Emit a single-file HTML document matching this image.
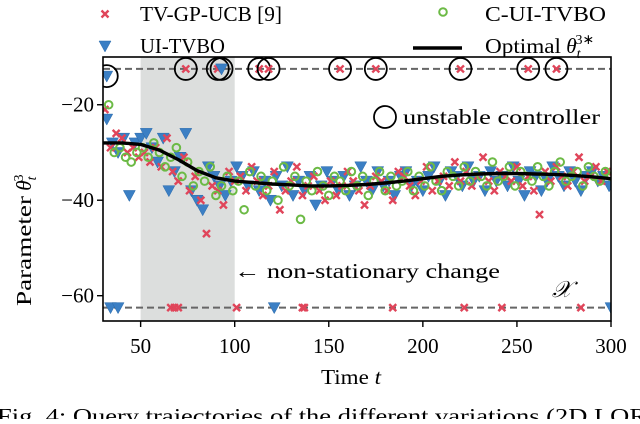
<!DOCTYPE html>
<html><head><meta charset="utf-8"><style>
body{margin:0;background:#fff;width:640px;height:419px;overflow:hidden}
svg{font-family:"Liberation Serif",serif}
</style></head><body>
<svg id="c" width="640" height="419" viewBox="0 0 640 419"></svg>
<script>
const tGrid=[31,34,37,40,43,46,49,52,55,58,61,64,67,70,73,76,79,82,85,88,91,94,97,100,103,106,109,112,115,118,121,124,127,130,133,136,139,142,145,148,151,154,157,160,163,166,169,172,175,178,181,184,187,190,193,196,199,202,205,208,211,214,217,220,223,226,229,232,235,238,241,244,247,250,253,256,259,262,265,268,271,274,277,280,283,286,289,292,295,298];
const redVals=[-21,-29,-26,-27,-30,-29,-31,-30,-32,-29,-33,-27,-34,-36,-31,-38,-35,-40,-47,-37,-38,-41,-34,-36,-35,-38,-33,-36,-39,-37,-34,-42,-38,-36,-33,-39,-37,-35,-38,-40,-36,-39,-37,-34,-36,-38,-41,-37,-35,-36,-38,-40,-34,-35,-37,-39,-36,-33,-38,-36,-35,-37,-32,-36,-34,-37,-35,-31,-36,-38,-34,-35,-36,-33,-37,-35,-38,-43,-34,-36,-33,-35,-37,-34,-31,-36,-35,-33,-36,-34];
const blueVals=[-23,-28,-30,-27,-39,-28,-27,-26,-29,-32,-27,-38,-34,-31,-26,-38,-40,-42,-33,-35,-37,-39,-36,-33,-35,-37,-34,-38,-36,-40,-35,-37,-33,-39,-36,-38,-35,-41,-37,-34,-36,-38,-35,-39,-37,-33,-36,-38,-34,-37,-36,-39,-35,-34,-37,-36,-38,-35,-33,-36,-39,-34,-35,-37,-33,-36,-35,-38,-34,-36,-35,-37,-33,-36,-39,-34,-35,-38,-36,-33,-35,-37,-34,-36,-38,-35,-34,-36,-35,-37];
const greenVals=[-20,-30,-29,-31,-32,-30,-29,-31,-28,-30,-33,-31,-29,-35,-32,-37,-34,-36,-33,-39,-37,-35,-38,-36,-42,-34,-37,-35,-38,-36,-40,-33,-37,-35,-44,-36,-38,-34,-37,-39,-35,-36,-38,-34,-37,-35,-39,-36,-34,-38,-35,-37,-36,-34,-38,-35,-37,-33,-36,-38,-34,-35,-37,-33,-36,-34,-35,-37,-32,-36,-35,-33,-37,-34,-35,-36,-33,-35,-37,-34,-32,-36,-35,-34,-37,-33,-35,-36,-34,-35];
const optT=[30,40,50,60,70,80,90,100,110,120,130,140,150,160,170,180,190,200,210,220,230,240,250,260,270,280,290,300];
const optV=[-28,-28,-28.3,-29.5,-31.5,-33.8,-35.3,-36,-36.3,-36.6,-36.8,-37,-37,-36.9,-36.7,-36.4,-36,-35.5,-35,-34.7,-34.5,-34.4,-34.4,-34.5,-34.6,-34.8,-35.1,-35.5];
const redBottom=[66,68,70,101,136,137,184,222,242,284];
const blueBottom=[34,38,121,300];
const unstableT=[32,74,91,93,113,118,156,175,220,256,271];
const unstableV=[-14,-12.5,-12.5,-12.5,-12.5,-12.5,-12.5,-12.5,-12.5,-12.5,-12.5];
const xTicks=[50,100,150,200,250,300];
const yTicks=[-20,-40,-60];
const L=103,R=611,T=57,B=321,X0=30,X1=300,Y0=-65.3,Y1=-10;
const sx=t=>L+(t-X0)/(X1-X0)*(R-L);
const sy=v=>B-(v-Y0)/(Y1-Y0)*(B-T);
const svg=document.getElementById('c');const NS='http://www.w3.org/2000/svg';
function mk(tag,a,parent){const e=document.createElementNS(NS,tag);for(const k in a)e.setAttribute(k,a[k]);(parent||svg).appendChild(e);return e;}
function tx(s,a){const e=mk('text',a);e.textContent=s;return e;}
const SG='spacingAndGlyphs';
let e;
e=mk('rect',{x:sx(50),y:T,width:sx(100)-sx(50),height:B-T,fill:'#dcdedd'});

[-12.5,-62.5].forEach(v=>{e=mk('line',{x1:L,x2:R,y1:sy(v),y2:sy(v),stroke:'#666',"stroke-width":2,"stroke-dasharray":"7,4"});
});
const clip=mk('clipPath',{id:'cp'});mk('rect',{x:L,y:T,width:R-L,height:B-T},clip);
const g=mk('g',{"clip-path":"url(#cp)"});
function cross(x,y,p){const d=3.5;const gg=mk('g',{},p);mk('path',{d:`M${x-d},${y-d}L${x+d},${y+d}M${x-d},${y+d}L${x+d},${y-d}`,stroke:'#e0455a',"stroke-width":2.4},gg);return gg;}
function tri(x,y,p){return mk('path',{d:`M${x-6},${y-5}L${x+6},${y-5}L${x},${y+6}Z`,fill:'#3b7fc4',stroke:'#2a6aab',"stroke-width":0.5},p);}
function circ(x,y,p){return mk('circle',{cx:x,cy:y,r:3.8,fill:'none',stroke:'#6cba45',"stroke-width":2},p);}
tGrid.forEach((t,i)=>{e=tri(sx(t+1),sy(blueVals[i]),g);});
tGrid.forEach((t,i)=>{e=cross(sx(t),sy(redVals[i]),g);});
tGrid.forEach((t,i)=>{e=circ(sx(t+2),sy(greenVals[i]),g);});
redBottom.forEach(t=>{e=cross(sx(t),sy(-62.5),g);});
blueBottom.forEach(t=>{e=tri(sx(t),sy(-62.5),g);});
unstableT.forEach((t,i)=>{if(i===0||i===3){e=tri(sx(t),sy(unstableV[i]),g);}else{e=cross(sx(t),sy(unstableV[i]),g);}

e=mk('circle',{cx:sx(t),cy:sy(unstableV[i]),r:11,fill:'none',stroke:'#000',"stroke-width":1.8},g);
});
e=mk('path',{d:optT.map((t,i)=>(i?'L':'M')+sx(t).toFixed(1)+','+sy(optV[i]).toFixed(1)).join(''),fill:'none',stroke:'#000',"stroke-width":3.4,"stroke-linejoin":"round"},g);

e=mk('rect',{x:L,y:T,width:R-L,height:B-T,fill:'none',stroke:'#000',"stroke-width":1.6});

xTicks.forEach(v=>{mk('line',{x1:sx(v),x2:sx(v),y1:B,y2:B+6,stroke:'#000',"stroke-width":1.4});
e=tx(String(v),{x:sx(v),y:B+32,"text-anchor":"middle","font-size":21});});
yTicks.forEach(v=>{mk('line',{x1:L-6,x2:L,y1:sy(v),y2:sy(v),stroke:'#000',"stroke-width":1.4});
e=tx('\u2212'+Math.abs(v),{x:L-9,y:sy(v)+7,"text-anchor":"end","font-size":21});});
e=tx('Time ',{x:321,y:384,"font-size":21,textLength:60,lengthAdjust:SG});
const ti=mk('tspan',{"font-style":"italic"},e);ti.textContent='t';
e=tx('',{transform:'translate(31,306) rotate(-90)',"font-size":21});
e.innerHTML='<tspan textLength="110" lengthAdjust="spacingAndGlyphs">Parameter</tspan><tspan> </tspan><tspan font-style="italic">θ</tspan><tspan font-size="14" dy="5" font-style="italic">t</tspan><tspan font-size="14" dy="-13" dx="-5">3</tspan>';
e=tx('unstable controller',{x:403,y:124,"font-size":21,textLength:197,lengthAdjust:SG});
mk('circle',{cx:385,cy:117,r:11,fill:'none',stroke:'#000',"stroke-width":1.8});
e=tx('← non-stationary change',{x:234,y:278,"font-size":21,textLength:266,lengthAdjust:SG});
e=tx('𝒳',{x:552,y:297,"font-size":23,"font-style":"italic"});
e=cross(105,14);
e=tx('TV-GP-UCB [9]',{x:140,y:21,"font-size":21,textLength:142,lengthAdjust:SG});
e=tri(105,46);
e=tx('UI-TVBO',{x:140,y:53,"font-size":21,textLength:85,lengthAdjust:SG});
e=circ(443,12);
e=tx('C-UI-TVBO',{x:485,y:21,"font-size":21,textLength:121,lengthAdjust:SG});
mk('line',{x1:413,x2:462,y1:48,y2:48,stroke:'#000',"stroke-width":3.4});
e=tx('',{x:485,y:53,"font-size":21});
e.innerHTML='<tspan textLength="76" lengthAdjust="spacingAndGlyphs">Optimal</tspan><tspan> </tspan><tspan font-style="italic">θ</tspan><tspan font-size="14" dy="5" font-style="italic">t</tspan><tspan font-size="14" dy="-14" dx="-5">3∗</tspan>';
e=tx('Fig. 4: Query trajectories of the different variations (2D LQR',{x:-3,y:423,"font-size":21,textLength:650,lengthAdjust:SG});
</script>
</body></html>
